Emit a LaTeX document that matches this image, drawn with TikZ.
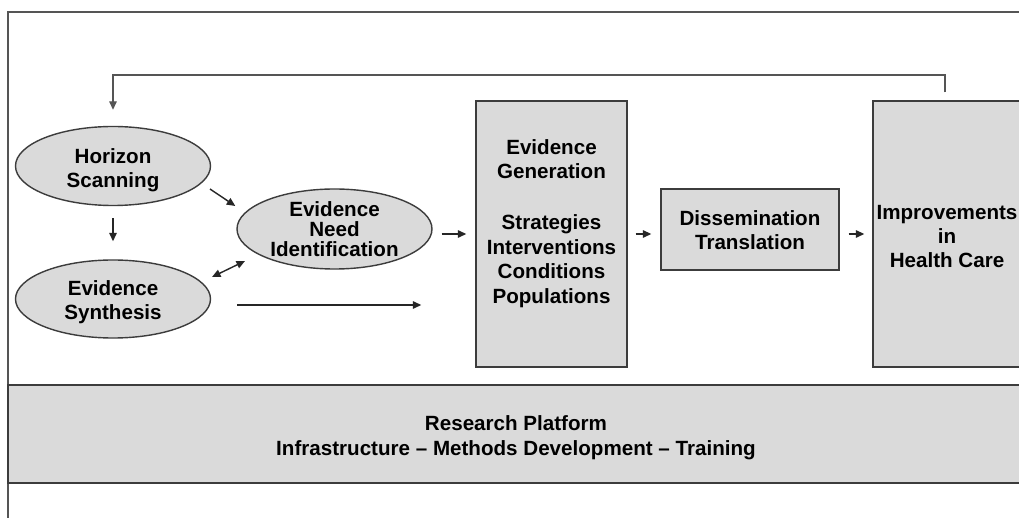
\documentclass[tikz,border=0pt]{standalone}
\usepackage{fontspec}
\setmainfont{Liberation Sans}
\usetikzlibrary{shapes.geometric,arrows.meta,calc}
\definecolor{boxfill}{HTML}{DADADA}
\definecolor{boxline}{HTML}{3C3C3C}
\definecolor{lineg}{HTML}{555555}
\begin{document}
\begin{tikzpicture}[x=1pt,y=-1pt,
  font=\bfseries\fontsize{20.6}{24}\selectfont,
  ell/.style={ellipse, draw=boxline, fill=boxfill, line width=1.4pt, inner sep=0pt, align=center},
  box/.style={rectangle, draw=boxline, fill=boxfill, line width=1.4pt, inner sep=0pt, align=center},
  txt/.style={inner sep=0pt, align=center},
  arr/.style={-{Triangle[length=8.5pt,width=7.5pt]}, line width=1.4pt, draw=black!85},
  darr/.style={{Triangle[length=8.5pt,width=7.5pt]}-{Triangle[length=8.5pt,width=7.5pt]}, line width=1.4pt, draw=black!85}]
\path[use as bounding box, fill=white] (0,0) rectangle (1019,518);
% outer frame
\draw[lineg, line width=1.5pt] (8,518) -- (8,12) -- (1019,12);
% nodes
\node[ell, minimum width=195pt, minimum height=79pt] (hs) at (113,166) {};
\node[txt] (hst) at ([yshift=-4pt]hs.center) {Horizon\\Scanning};
\node[ell, minimum width=195pt, minimum height=78pt] (es) at (113,299) {};
\node[txt] (est) at ([yshift=-3.5pt]es.center) {Evidence\\Synthesis};
\node[ell, minimum width=195pt, minimum height=80pt, font=\bfseries\fontsize{20.6}{20}\selectfont] (eni) at (334.5,229) {Evidence\\Need\\Identification};
\node[box, minimum width=151pt, minimum height=266pt] (eg) at (551.5,234) {};
\node[txt, font=\bfseries\fontsize{20.6}{24.7}\selectfont] (egt) at ([yshift=10.5pt]eg.center) {Evidence\\Generation\\[26pt]Strategies\\Interventions\\Conditions\\Populations};
\node[box, minimum width=178pt, minimum height=81pt] (dis) at (750,229.5) {};
\node[txt] (dist) at ([yshift=-1pt]dis.center) {Dissemination\\Translation};
\node[box, minimum width=148pt, minimum height=266pt] (imp) at (947,234) {};
\node[txt] (impt) at ([yshift=-3pt]imp.center) {Improvements\\in\\Health Care};
\node[box, minimum width=1022pt, minimum height=98pt] (rp) at (519,434) {};
\node[txt, font=\bfseries\fontsize{20.6}{25}\selectfont] (rpt) at ([xshift=-3pt,yshift=-3.5pt]rp.center) {Research Platform\\Infrastructure -- Methods Development -- Training};
% connectors
\coordinate (fb) at (113,75);
\draw[arr, draw=lineg] ([yshift=8pt,xshift=-2pt]imp.north) |- (fb) -- ([yshift=16pt]hs.north);
\draw[arr, shorten <=12pt, shorten >=18pt] (hs) -- (es);
\draw[arr] ($(hs.center)+(97,23)$) -- ($(eni.west)+(-1,-23)$);
\draw[darr] ($(es.center)+(99,-22)$) -- ($(eni.center)+(-89.5,32)$);
\draw[arr] ($(es.center)+(124,6)$) -- ($(eg.west)+(-54,71)$);
\draw[arr] ($(eni.east)+(9,5)$) -- ([xshift=-9pt]eg.west);
\draw[arr] ([xshift=8pt]eg.east) -- ([xshift=-9pt]eg.east -| dis.west);
\draw[arr] ([xshift=9pt]dis.east |- imp.west) -- ([xshift=-8pt]imp.west);
\end{tikzpicture}
\end{document}
